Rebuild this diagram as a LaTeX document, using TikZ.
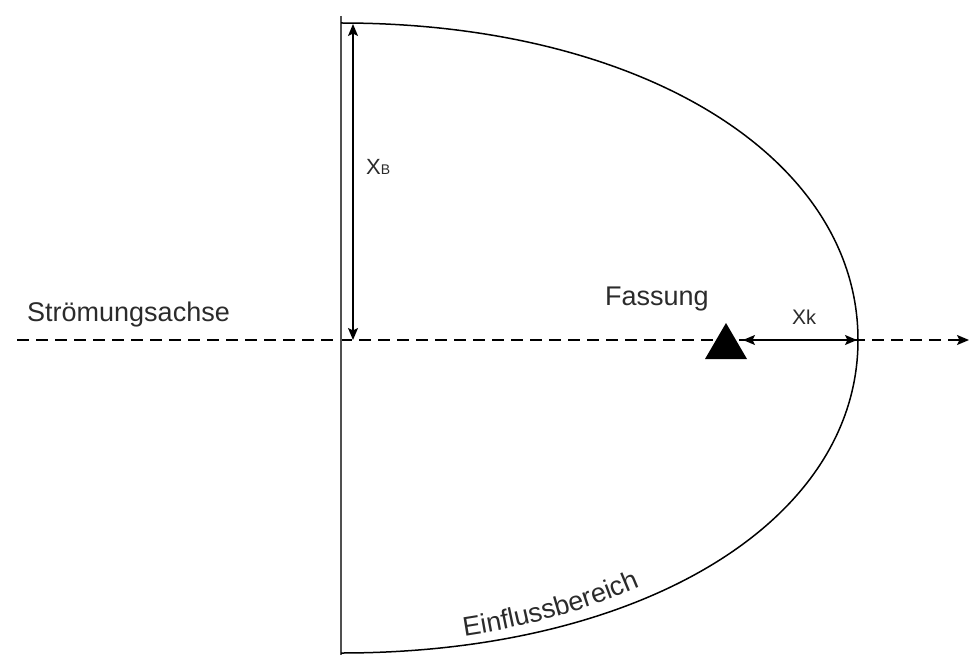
\documentclass[tikz,border=0pt]{standalone}
\usepackage{fontspec}
\setmainfont{Liberation Sans}
\usetikzlibrary{arrows.meta,decorations.text}
\definecolor{txt}{HTML}{2B2B2B}
\definecolor{wallc}{HTML}{505050}
\tikzset{
  lbl/.style={inner sep=0pt, text=txt, font=\fontsize{27}{27}\selectfont},
  dimline/.style={line width=1.4pt, {Stealth[length=12pt,width=10pt,inset=2.5pt]}-{Stealth[length=12pt,width=10pt,inset=2.5pt]}},
  axisline/.style={line width=1.4pt, dash pattern=on 12pt off 7pt, -{Stealth[length=12pt,width=10pt,inset=2.5pt]}},
  wallline/.style={line width=2.2pt, draw=wallc},
  boundary/.style={line width=1.5pt}
}
\begin{document}
\begin{tikzpicture}[x=1pt,y=-1pt]
\useasboundingbox (0,0) rectangle (969,655);
% coordinates
\coordinate (wallTop) at (341,16);
\coordinate (wallBot) at (341,655);
\coordinate (bTop) at (341,23);
\coordinate (bRight) at (858,340);
\coordinate (bBot) at (341,653);
\coordinate (axL) at (17,340);
\coordinate (axR) at (969,340);
\coordinate (xbTop) at (353,24);
\coordinate (xbBot) at (353,340);
\coordinate (xkL) at (743,340);
\coordinate (xkR) at (857,340);
% axis
\draw[axisline] (axL) -- (axR);
% wall
\draw[wallline] (wallTop) -- (wallBot);
% boundary curve
\draw[boundary] (bTop) .. controls (641,23) and (858,157) .. (bRight)
                       .. controls (858,522) and (641,653) .. (bBot);
% triangle (Fassung)
\fill[black] (705,359) coordinate (triL) -- (726,323) coordinate (triTop) -- (747,359) coordinate (triR) -- cycle;
% dimension lines
\draw[dimline] (xbTop) -- (xbBot);
\draw[dimline] (xkL) -- (xkR);
% labels
\node[lbl, anchor=base west] (achse) at (27,321) {Strömungsachse};
\node[lbl, anchor=base west] (fassung) at (605,305) {Fassung};
\node[lbl, anchor=base west] (xb) at (366,175) {\fontsize{22}{22}\selectfont X\fontsize{14}{14}\selectfont B};
\node[lbl, anchor=base west] (xk) at (792,324) {\fontsize{21}{21}\selectfont X\fontsize{20}{20}\selectfont k};
% Einflussbereich along the curve
\path[decorate, decoration={text along path, text color=txt,
      text={|\fontsize{27}{27}\selectfont|Einflussbereich}}]
  plot[smooth, domain=76:52, samples=25] ({341+510*cos(\x)},{340+305*sin(\x)});
\end{tikzpicture}
\end{document}
